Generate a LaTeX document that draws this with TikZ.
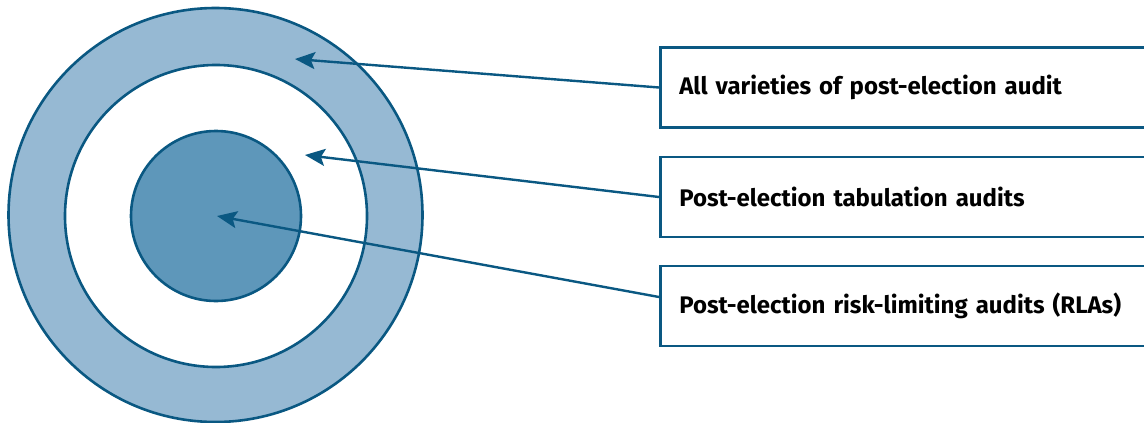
\documentclass[tikz,border=0pt]{standalone}
\usepackage{fontspec}
\setmainfont{Fira Sans}
\usepackage{tikz}
\usetikzlibrary{arrows.meta}
\definecolor{ringblue}{RGB}{150,185,211}
\definecolor{coreblue}{RGB}{94,151,186}
\definecolor{edgeblue}{RGB}{10,88,130}

\begin{document}
\begin{tikzpicture}[x=1pt, y=-1pt,
  ring/.style={circle, draw=edgeblue, line width=2.6pt, inner sep=0pt},
  label box/.style={rectangle, draw=edgeblue, line width=2.6pt, anchor=west,
    minimum width=500pt, minimum height=80pt, inner xsep=19pt, text width=462pt,
    align=left, font=\fontsize{24}{28}\selectfont\bfseries},
  arr/.style={draw=edgeblue, line width=2.4pt, -{Stealth[length=20pt, width=17pt, inset=4pt]}}]
  \useasboundingbox (0,0) rectangle (1144,423);
  \node [ring, fill=ringblue, minimum size=414pt] (outer) at (215.5,215) {};
  \node [ring, fill=white, minimum size=302pt] (middle) at (216,216) {};
  \node [ring, fill=coreblue, minimum size=170pt] (core) at (216,216) {};
  \coordinate (t1) at (295,59);
  \coordinate (t2) at (305,155);
  \coordinate (t3) at (217,216);
  \node [label box] (all) at (659,87.5) {All varieties of post-election audit};
  \node [label box] (tab) at (659,197) {Post-election tabulation audits};
  \node [label box] (rla) at (659,306) {Post-election risk-limiting audits (RLAs)};
  \draw [arr] (all.west) -- (t1);
  \draw [arr] (tab.west) -- (t2);
  \draw [arr] ([yshift=9pt]rla.west) -- (t3);
\end{tikzpicture}
\end{document}
